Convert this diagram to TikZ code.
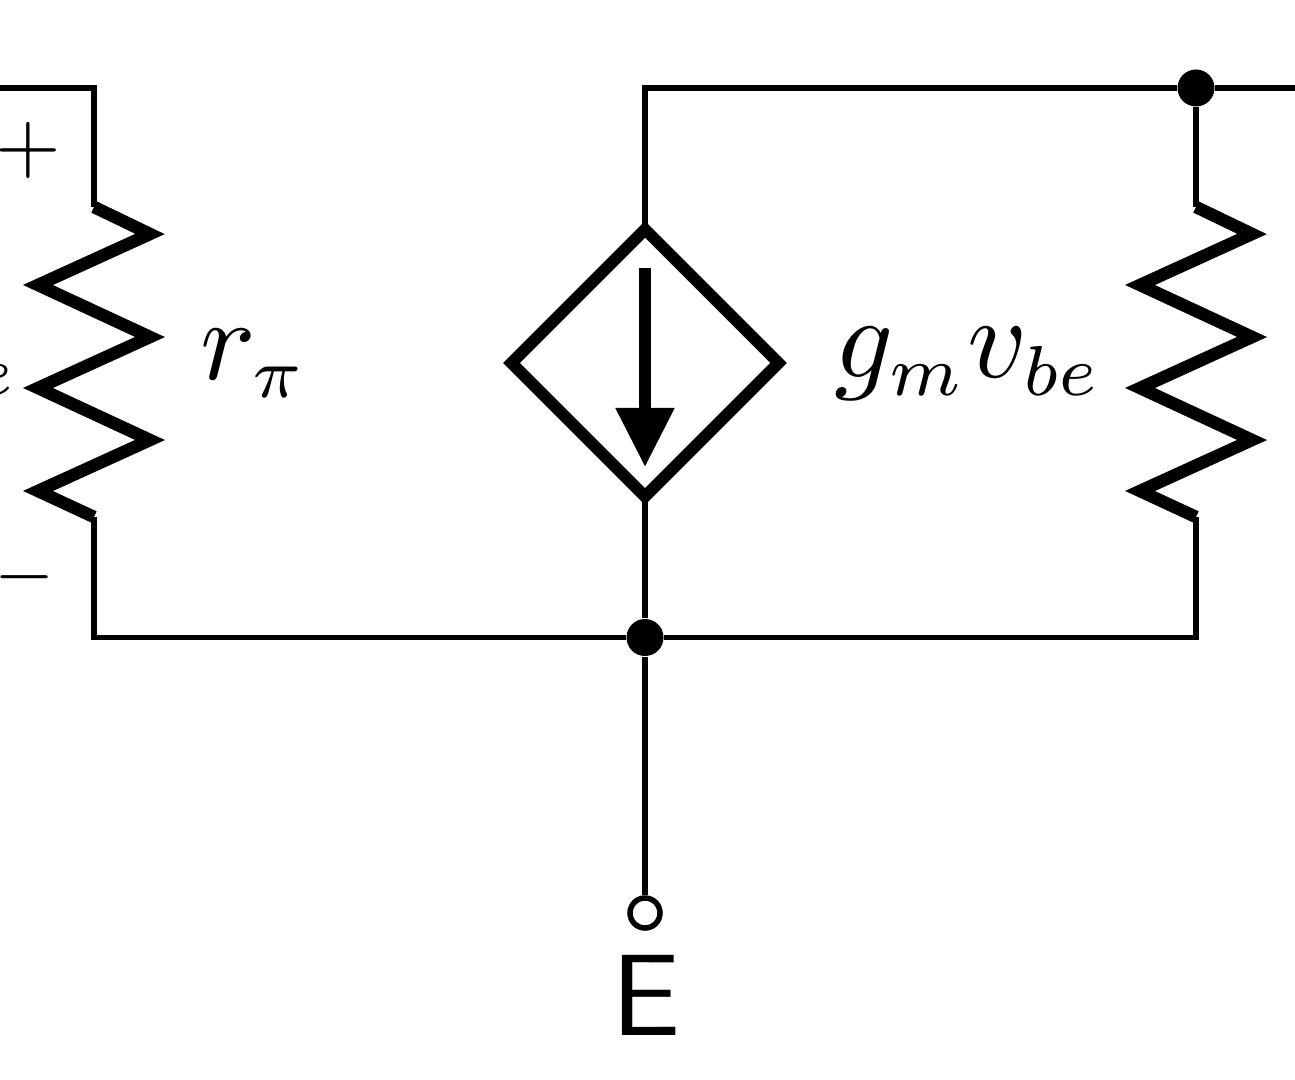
\documentclass[tikz,border=0pt]{standalone}
\usetikzlibrary{shapes.geometric,arrows.meta}
\newcommand{\smallsub}[1]{\scalebox{0.87}{$\scriptstyle #1$}}

\begin{document}
\begin{tikzpicture}[x=0.01cm,y=-0.01cm]
\tikzstyle{wire}=[line width=0.055cm]
\tikzstyle{zigzag}=[line width=0.125cm,miter limit=10]
\tikzstyle{junction}=[circle,fill=black,draw=none,inner sep=0pt,minimum size=0.37cm]
\tikzstyle{terminal}=[circle,fill=white,draw=black,line width=0.055cm,inner sep=0pt,minimum size=0.30cm]
\tikzstyle{source}=[diamond,draw=black,line width=0.118cm,inner sep=0pt,outer sep=0pt,minimum width=2.67cm,minimum height=2.67cm]
\tikzstyle{bigtext}=[scale=3.3,inner sep=0pt]

\useasboundingbox (0,0) rectangle (1295,1080);

\path (0,88) coordinate (in_top);
\path (1295,88) coordinate (out_top);
\path (94,88) coordinate (left_top);
\path (645,88) coordinate (mid_top);
\path (94,637.5) coordinate (left_bot);
\path (1196,637.5) coordinate (right_bot);

\node[source] (gm) at (645,363) {};
\node[junction] (top_dot) at (1196,88) {};
\node[junction] (bot_dot) at (645,637.5) {};
\node[terminal] (emit) at (645,913) {};

% the two resistors have the same points
\foreach \Name/\Xpos in {r1/94,r2/1196}{
    \path (\Xpos,207) coordinate (\Name_0);
    \path (\Name_0) +(56,27) coordinate (\Name_1);
    \path (\Name_0) +(-56,78) coordinate (\Name_2);
    \path (\Name_0) +(56,130) coordinate (\Name_3);
    \path (\Name_0) +(-56,181) coordinate (\Name_4);
    \path (\Name_0) +(56,233) coordinate (\Name_5);
    \path (\Name_0) +(-56,284) coordinate (\Name_6);
    \path (\Xpos,517) coordinate (\Name_7);
    \draw[zigzag] (\Name_0) -- (\Name_1) -- (\Name_2) -- (\Name_3)
        -- (\Name_4) -- (\Name_5) -- (\Name_6) -- (\Name_7);
}

\draw[wire]   (in_top) -- (left_top) -- (r1_0)
        (r1_7) -- (left_bot) -- (bot_dot)
        (bot_dot) -- (right_bot) -- (r2_7)
        (r2_0) -- (top_dot)
        (out_top) -- (top_dot) -- (mid_top) -- (gm.north)
        (gm.south) -- (bot_dot)
        (bot_dot) -- (emit);

\path (645,268) coordinate (arrow_a);
\path (645,467) coordinate (arrow_b);
\draw[line width=0.115cm,-{Triangle[length=0.59cm,width=0.56cm]}] (arrow_a) -- (arrow_b);

\node[scale=2.4,inner sep=0pt] (plus) at (28,150) {$+$};
\node[scale=2.2,inner sep=0pt] (minus) at (25,577) {$-$};
\node[bigtext,anchor=base east] (vbe_end) at (15,396) {\smallsub{e}};
\node[bigtext,anchor=base west] (rpi) at (198,380) {$r_{\smallsub{\pi}}$};
\node[bigtext,anchor=base west] (gmvbe) at (832,378) {$g_{\smallsub{m}} v_{\smallsub{be}}$};
\node[bigtext,anchor=base,font=\sffamily] (elabel) at (646,1035) {E};
\end{tikzpicture}
\end{document}
